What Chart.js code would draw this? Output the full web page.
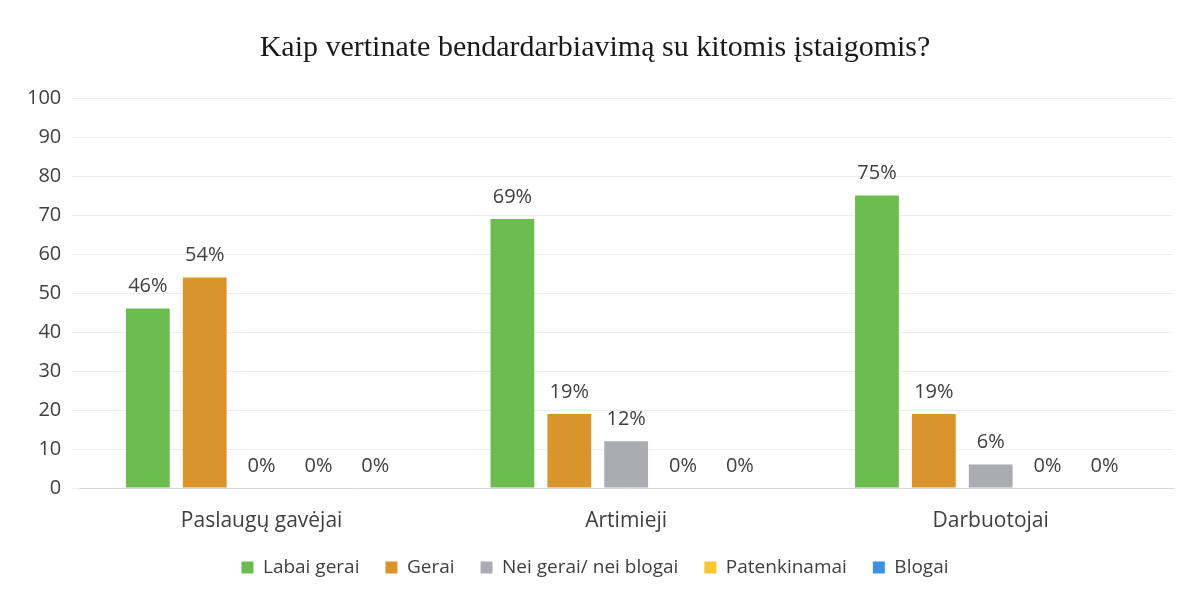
<!DOCTYPE html>
<html>
<head>
<meta charset="utf-8">
<script src="https://cdn.jsdelivr.net/npm/chart.js@4/dist/chart.umd.min.js"></script>
<style>
  html, body { margin: 0; padding: 0; background: #fff; }
  #wrap { width: 1185px; height: 599px; }
</style>
</head>
<body>
<div id="wrap"><canvas id="chartID"></canvas></div>
<script>
const categories = ['Paslaugų gavėjai', 'Artimieji', 'Darbuotojai']
const labaiGerai = [46, 69, 75]
const gerai = [54, 19, 19]
const neiGerai = [0, 12, 6]
const patenkinamai = [0, 0, 0]
const blogai = [0, 0, 0]

const seriesNames = ['Labai gerai', 'Gerai', 'Nei gerai/ nei blogai', 'Patenkinamai', 'Blogai']
const seriesColors = ['#6cbd4f', '#d9952b', '#ababb3', '#f7c535', '#3d8fe3']
const seriesData = [labaiGerai, gerai, neiGerai, patenkinamai, blogai]

// draws the "46%" labels above each bar
const valueLabels = {
	id: 'valueLabels',
	afterDatasetsDraw(chart) {
		const ctx = chart.ctx
		ctx.save()
		ctx.font = '20px "Open Sans", sans-serif'
		ctx.fillStyle = '#404040'
		ctx.textAlign = 'center'
		ctx.textBaseline = 'bottom'
		chart.data.datasets.forEach(function(ds, i) {
			chart.getDatasetMeta(i).data.forEach(function(bar, j) {
				ctx.fillText(ds.data[j] + '%', bar.x, bar.y - 12)
			})
		})
		ctx.restore()
	}
}

const data = {
	labels: categories,
	datasets: seriesNames.map(function(name, i) {
		return {
			label: name,
			data: seriesData[i],
			backgroundColor: seriesColors[i],
			borderWidth: 0,
			categoryPercentage: 0.78,
			barPercentage: 0.77,
		}
	}),
}

function drawBarChart() {
	let chartCtx = document.getElementById('chartID').getContext('2d')
	new Chart(chartCtx, {
		type: 'bar',
		data: data,
		plugins: [valueLabels],
		options: {
			responsive: true,
			maintainAspectRatio: false,
			animation: false,
			layout: { padding: { left: 17, right: 12, top: 10, bottom: 12 } },
			plugins: {
				title: {
					display: true,
					text: 'Kaip vertinate bendardarbiavimą su kitomis įstaigomis?',
					color: '#1a1a1a',
					font: { family: '"Liberation Serif", serif', size: 30, weight: 'normal' },
					padding: { top: 20, bottom: 32 },
				},
				legend: {
					position: 'bottom',
					labels: {
						color: '#404040',
						font: { family: '"Open Sans", sans-serif', size: 19 },
						boxWidth: 12,
						boxHeight: 12,
						padding: 26,
					},
				},
				tooltip: { enabled: false },
			},
			scales: {
				x: {
					grid: { display: false },
					border: { color: '#d9d9d9' },
					ticks: { color: '#404040', font: { family: '"Open Sans", sans-serif', size: 21 }, padding: 12 },
					afterFit: function(scale) { scale.height = 44 },
				},
				y: {
					min: 0,
					max: 100,
					ticks: { stepSize: 10, color: '#404040', font: { family: '"Open Sans", sans-serif', size: 20 }, padding: 10 },
					grid: { color: '#ececec' },
					border: { display: false },
				},
			},
		},
	})
}

drawBarChart()
</script>
</body>
</html>
